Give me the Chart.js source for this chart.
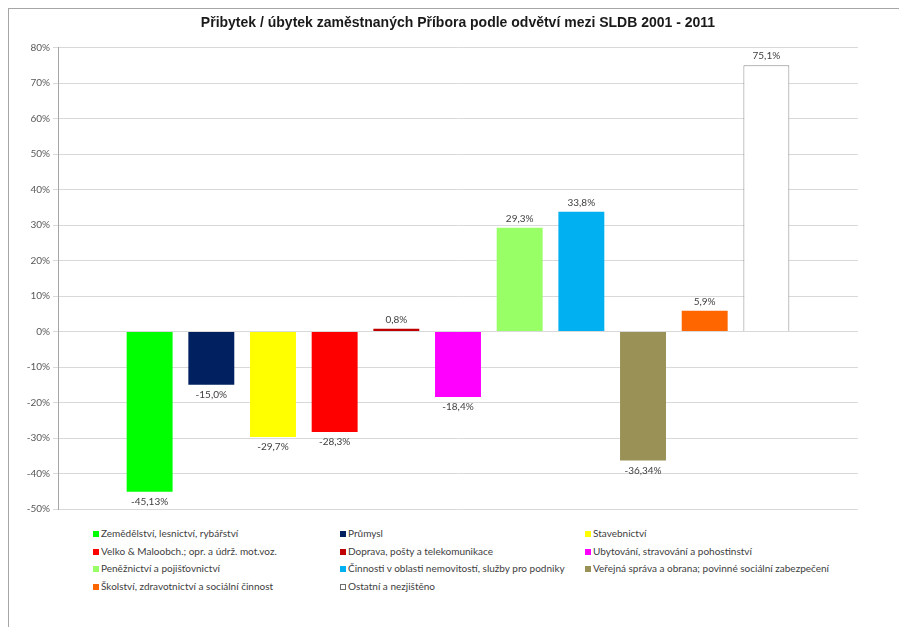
<!DOCTYPE html>
<html>
<head>
<meta charset="utf-8">
<script src="https://cdn.jsdelivr.net/npm/chart.js@4/dist/chart.umd.min.js"></script>
<style>
  body { margin: 0; background: #fff; overflow: hidden; }
  #frame {
    position: absolute; left: 8px; top: 8px; width: 900px; height: 640px;
    border-left: 1px solid #a6a6a6; border-top: 1px solid #a6a6a6;
  }
  #wrap { position: absolute; left: 0; top: 0; width: 899px; height: 520px; }
  #legend {
    position: absolute; left: 93px; top: 527px;
    display: grid; grid-template-columns: 247px 245px 280px;
    font: 10px Lato, "Open Sans", sans-serif; color: #404040;
  }
  #legend div { height: 17.5px; line-height: 12px; white-space: nowrap; }
  #legend span {
    display: inline-block; width: 6px; height: 6px; margin-right: 2px;
    box-sizing: border-box; vertical-align: 0px;
  }
</style>
</head>
<body>
<div id="frame"></div>
<div id="wrap"><canvas id="c"></canvas></div>
<div id="legend"></div>
<script>
const sectors = [
  "Zemědělství, lesnictví, rybářství",
  "Průmysl",
  "Stavebnictví",
  "Velko & Maloobch.; opr. a údrž. mot.voz.",
  "Doprava, pošty a telekomunikace",
  "Ubytování, stravování a pohostinství",
  "Peněžnictví a pojišťovnictví",
  "Činnosti v oblasti nemovitostí, služby pro podniky",
  "Veřejná správa a obrana; povinné sociální zabezpečení",
  "Školství, zdravotnictví a sociální činnost",
  "Ostatní a nezjištěno"
];
const change = [-45.13, -15.0, -29.7, -28.3, 0.8, -18.4, 29.3, 33.8, -36.34, 5.9, 75.1];
const changeText = ["-45,13%", "-15,0%", "-29,7%", "-28,3%", "0,8%", "-18,4%", "29,3%", "33,8%", "-36,34%", "5,9%", "75,1%"];
const colors = ["#00ff00", "#002060", "#ffff00", "#ff0000", "#c00000", "#ff00ff",
                "#99ff66", "#00b0f0", "#9a9157", "#ff6600", "#ffffff"];
const yTicks = [-50, -40, -30, -20, -10, 0, 10, 20, 30, 40, 50, 60, 70, 80];

// data labels above positive bars, below negative ones
const valueLabels = {
  id: "valueLabels",
  afterDatasetsDraw(chart) {
    const ctx = chart.ctx;
    ctx.save();
    ctx.font = "10px Lato, 'Open Sans', sans-serif";
    ctx.fillStyle = "#404040";
    ctx.textAlign = "center";
    chart.data.datasets.forEach((ds, i) => {
      const bar = chart.getDatasetMeta(i).data[0];
      if (ds.data[0] >= 0) {
        ctx.textBaseline = "bottom";
        ctx.fillText(changeText[i], bar.x, bar.y - 4);
      } else {
        ctx.textBaseline = "top";
        ctx.fillText(changeText[i], bar.x, bar.y + 5);
      }
    });
    ctx.restore();
  }
};

new Chart(document.getElementById("c"), {
  type: "bar",
  data: {
    labels: [""],
    datasets: sectors.map((name, i) => ({
      label: name,
      data: [change[i]],
      backgroundColor: colors[i],
      borderColor: i === sectors.length - 1 ? "#8c8c8c" : colors[i],
      borderWidth: i === sectors.length - 1 ? 1 : 0,
      categoryPercentage: 0.848,
      barPercentage: 0.745
    }))
  },
  options: {
    responsive: true,
    maintainAspectRatio: false,
    animation: false,
    layout: { padding: { left: 8, right: 41, top: 0, bottom: 11 } },
    plugins: {
      legend: { display: false },
      tooltip: { enabled: false },
      title: {
        display: true,
        fullSize: false,
        text: "Přibytek / úbytek zaměstnaných Příbora podle odvětví mezi SLDB 2001 - 2011",
        color: "#1a1a1a",
        font: { family: "'Liberation Sans', Arial, sans-serif", size: 14, weight: "bold" },
        padding: { top: 15, bottom: 16 }
      }
    },
    scales: {
      x: { display: false },
      y: {
        min: -50,
        max: 80,
        afterBuildTicks: (s) => { s.ticks = yTicks.map((v) => ({ value: v })); },
        afterFit: (s) => { s.width = 50; },
        ticks: {
          color: "#595959",
          font: { family: "Lato, 'Open Sans', sans-serif", size: 10 },
          padding: 3,
          callback: (v) => v + "%"
        },
        grid: { color: "#d9d9d9", tickLength: 5, tickColor: "#d9d9d9" },
        border: { color: "#a6a6a6" }
      }
    }
  },
  plugins: [valueLabels]
});

const legend = document.getElementById("legend");
sectors.forEach((name, i) => {
  const item = document.createElement("div");
  const box = document.createElement("span");
  box.style.background = colors[i];
  if (i === sectors.length - 1) box.style.border = "1px solid #6e6e6e";
  item.appendChild(box);
  item.appendChild(document.createTextNode(name));
  legend.appendChild(item);
});
</script>
</body>
</html>
